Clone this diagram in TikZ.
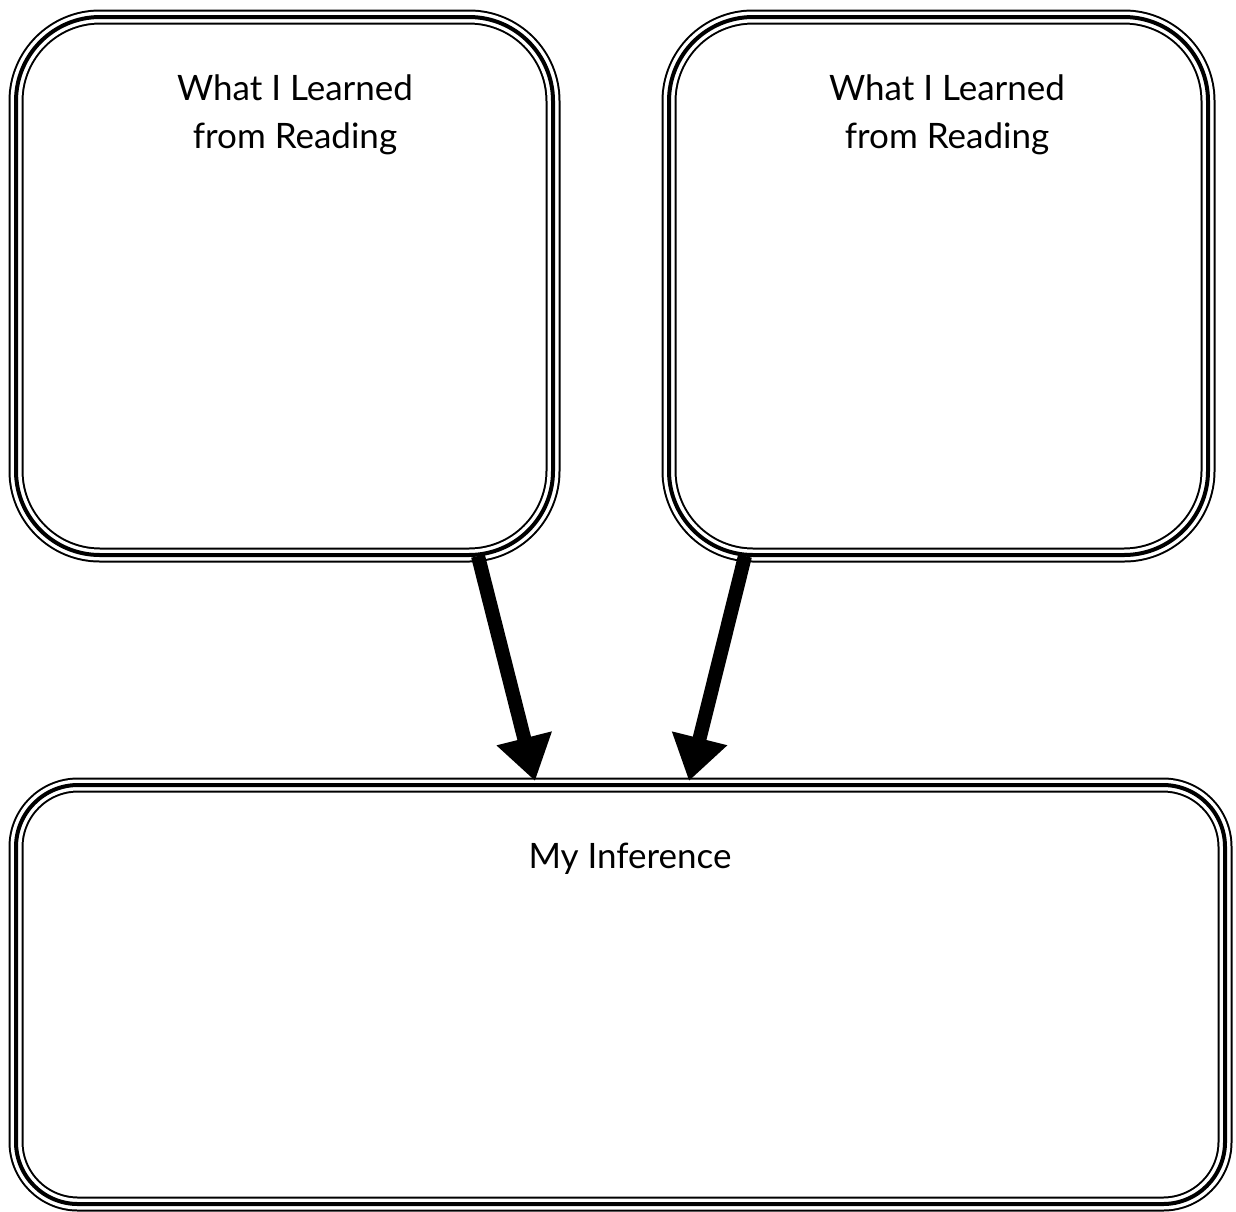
\documentclass[tikz,border=0pt]{standalone}
\usepackage{fontspec}
\setmainfont{Lato}
\usetikzlibrary{arrows.meta}
\tikzset{
  triplebox/.style={draw=white, line width=11pt, inner sep=0pt,
    preaction={draw=black, line width=15pt},
    postaction={draw=black, line width=4pt}},
  lbl/.style={inner sep=0pt, align=center, font=\fontsize{35}{48}\selectfont, anchor=north},
  bigarrow/.style={line width=14pt, -{Triangle[width=54pt,length=44pt]}}
}
\begin{document}
\begin{tikzpicture}[x=1pt,y=-1pt]
\useasboundingbox (0,0) rectangle (1236,1211);
\node[triplebox, rounded corners=84pt, minimum width=537pt, minimum height=538pt] (b1) at (284.5,286) {};
\node[triplebox, rounded corners=84pt, minimum width=539pt, minimum height=538pt] (b2) at (938.5,286) {};
\node[triplebox, rounded corners=62pt, minimum width=1209pt, minimum height=419pt] (b3) at (620.5,994.5) {};
\node[lbl] (t1) at (295,75) {What I Learned\\from Reading};
\node[lbl] (t2) at (947,75) {What I Learned\\from Reading};
\node[lbl] (t3) at (630,843) {My Inference};
\coordinate (s1) at (478,556);
\coordinate (e1) at (535,781);
\coordinate (s2) at (745,556);
\coordinate (e2) at (689,781);
\draw[bigarrow] (s1) -- (e1);
\draw[bigarrow] (s2) -- (e2);
\end{tikzpicture}
\end{document}
